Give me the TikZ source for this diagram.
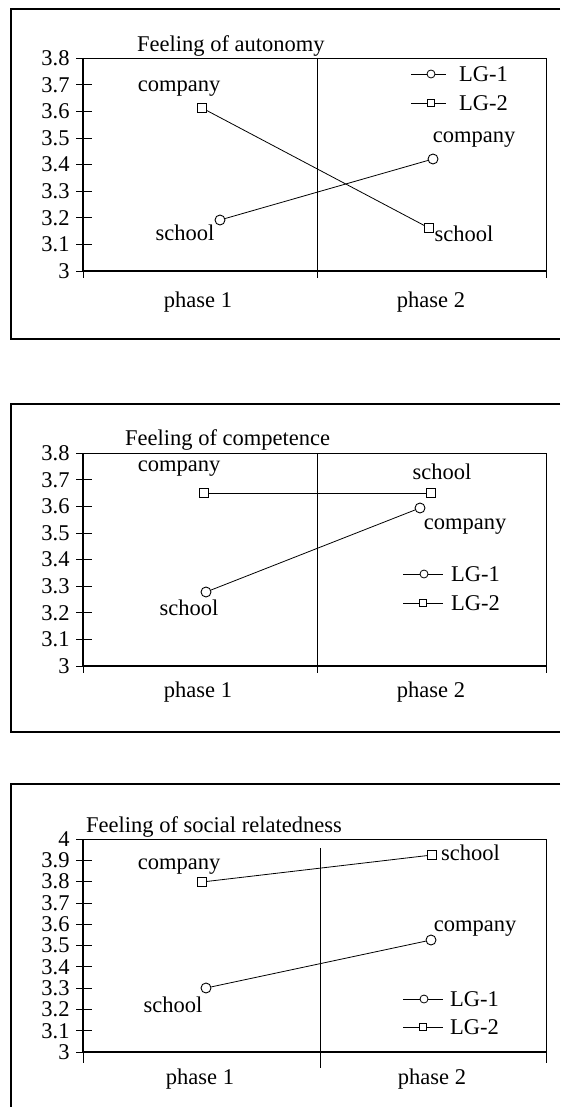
\documentclass[tikz,border=0pt]{standalone}
\usepackage{fontspec}
\setmainfont{Liberation Serif}

\begin{document}
\begin{tikzpicture}[x=1pt,y=-1pt,
  every node/.style={font=\fontsize{22.5}{26}\selectfont, inner sep=0pt},
  lgone/.style={circle,draw,fill=white,minimum size=10pt,line width=0.9pt},
  lgtwo/.style={rectangle,draw,fill=white,minimum size=8.5pt,line width=0.9pt},
  keyone/.style={circle,draw,fill=white,minimum size=8pt,line width=0.8pt},
  keytwo/.style={rectangle,draw,fill=white,minimum size=6.5pt,line width=0.8pt},
  frame/.style={line width=1.2pt},
  axis/.style={line width=1.3pt},
  thin/.style={line width=0.8pt}]
  \useasboundingbox (0,0) rectangle (560,1107);

  % ---- Feeling of autonomy ----
  \draw[frame] (560,9) -- (11,9) -- (11,339) -- (560,339);
  \draw[thin] (83,58) -- (546,58) -- (546,271);
  \draw[thin] (317,58) -- (317,278);
  \draw[axis] (83,58) -- (83,271) -- (546,271);
  \foreach \x in {83,546} \draw[thin] (\x,271) -- (\x,278);
  \foreach \i/\t in {0/3,1/3.1,2/3.2,3/3.3,4/3.4,5/3.5,6/3.6,7/3.7,8/3.8}
    \draw[thin] (76,271-26.6*\i) -- (92,271-26.6*\i)
      node[anchor=east] (ya\i) at (70,271-26.6*\i) {\t};
  \node[anchor=west] (ta) at (137,46) {Feeling of autonomy};
  \node (pa1) at (198,302) {phase 1};
  \node (pa2) at (431,302) {phase 2};
  \node[lgone] (a1) at (220,220) {};
  \node[lgone] (a2) at (433,159) {};
  \node[lgtwo] (b1) at (202,108) {};
  \node[lgtwo] (b2) at (429,228) {};
  \draw[thin] (a1) -- (a2);
  \draw[thin] (b1) -- (b2);
  \node (ca1) at (179,89) {company};
  \node (sa1) at (185,233) {school};
  \node (ca2) at (474,140) {company};
  \node (sa2) at (464,234) {school};
  \coordinate (ka1) at (411,74);
  \coordinate (ka2) at (446,74);
  \coordinate (kb1) at (411,103);
  \coordinate (kb2) at (446,103);
  \draw[thin] (ka1) -- (ka2);
  \draw[thin] (kb1) -- (kb2);
  \node[keyone] (kam) at (431,74) {};
  \node[keytwo] (kbm) at (431,103) {};
  \node[anchor=west] (la1) at (459,74) {LG-1};
  \node[anchor=west] (la2) at (459,103) {LG-2};

  % ---- Feeling of competence ----
  \draw[frame] (560,404) -- (11,404) -- (11,732) -- (560,732);
  \draw[thin] (83,453) -- (546,453) -- (546,666);
  \draw[thin] (317,453) -- (317,673);
  \draw[axis] (83,453) -- (83,666) -- (546,666);
  \foreach \x in {83,546} \draw[thin] (\x,666) -- (\x,673);
  \foreach \i/\t in {0/3,1/3.1,2/3.2,3/3.3,4/3.4,5/3.5,6/3.6,7/3.7,8/3.8}
    \draw[thin] (76,666-26.6*\i) -- (92,666-26.6*\i)
      node[anchor=east] (yb\i) at (70,666-26.6*\i) {\t};
  \node[anchor=west] (tb) at (125,440) {Feeling of competence};
  \node (pb1) at (198,692) {phase 1};
  \node (pb2) at (431,692) {phase 2};
  \node[lgone] (c1) at (206,592) {};
  \node[lgone] (c2) at (420,508) {};
  \node[lgtwo] (d1) at (204,493) {};
  \node[lgtwo] (d2) at (431,493) {};
  \draw[thin] (c1) -- (c2);
  \draw[thin] (d1) -- (d2);
  \node (cb1) at (179,469) {company};
  \node (sb2) at (442,472) {school};
  \node (cb2) at (465,527) {company};
  \node (sb1) at (189,608) {school};
  \coordinate (kc1) at (403,574);
  \coordinate (kc2) at (443,574);
  \coordinate (kd1) at (403,603);
  \coordinate (kd2) at (443,603);
  \draw[thin] (kc1) -- (kc2);
  \draw[thin] (kd1) -- (kd2);
  \node[keyone] (kcm) at (424,574) {};
  \node[keytwo] (kdm) at (423,603) {};
  \node[anchor=west] (lb1) at (451,574) {LG-1};
  \node[anchor=west] (lb2) at (451,603) {LG-2};

  % ---- Feeling of social relatedness ----
  \draw[frame] (560,784) -- (11,784) -- (11,1107);
  \draw[thin] (83,839) -- (546,839) -- (546,1052);
  \draw[thin] (320,848) -- (320,1068);
  \draw[axis] (83,839) -- (83,1052) -- (546,1052);
  \foreach \x in {83,546} \draw[thin] (\x,1052) -- (\x,1063);
  \foreach \i/\t in {0/3,1/3.1,2/3.2,3/3.3,4/3.4,5/3.5,6/3.6,7/3.7,8/3.8,9/3.9,10/4}
    \draw[thin] (76,1052-21.3*\i) -- (92,1052-21.3*\i)
      node[anchor=east] (yc\i) at (70,1052-21.3*\i) {\t};
  \node[anchor=west] (tc) at (86,827) {Feeling of social relatedness};
  \node (pc1) at (200,1079) {phase 1};
  \node (pc2) at (432,1079) {phase 2};
  \node[lgone] (e1) at (206,988) {};
  \node[lgone] (e2) at (431,940) {};
  \node[lgtwo] (f1) at (202,882) {};
  \node[lgtwo] (f2) at (432,855) {};
  \draw[thin] (e1) -- (e2);
  \draw[thin] (f1) -- (f2);
  \node (cc1) at (179,867) {company};
  \node[anchor=west] (sc2) at (441,853) {school};
  \node (cc2) at (475,929) {company};
  \node (sc1) at (173,1005) {school};
  \coordinate (ke1) at (403,999);
  \coordinate (ke2) at (443,999);
  \coordinate (kf1) at (403,1027);
  \coordinate (kf2) at (443,1027);
  \draw[thin] (ke1) -- (ke2);
  \draw[thin] (kf1) -- (kf2);
  \node[keyone] (kem) at (424,999) {};
  \node[keytwo] (kfm) at (423,1027) {};
  \node[anchor=west] (lc1) at (450,999) {LG-1};
  \node[anchor=west] (lc2) at (450,1027) {LG-2};
\end{tikzpicture}
\end{document}
